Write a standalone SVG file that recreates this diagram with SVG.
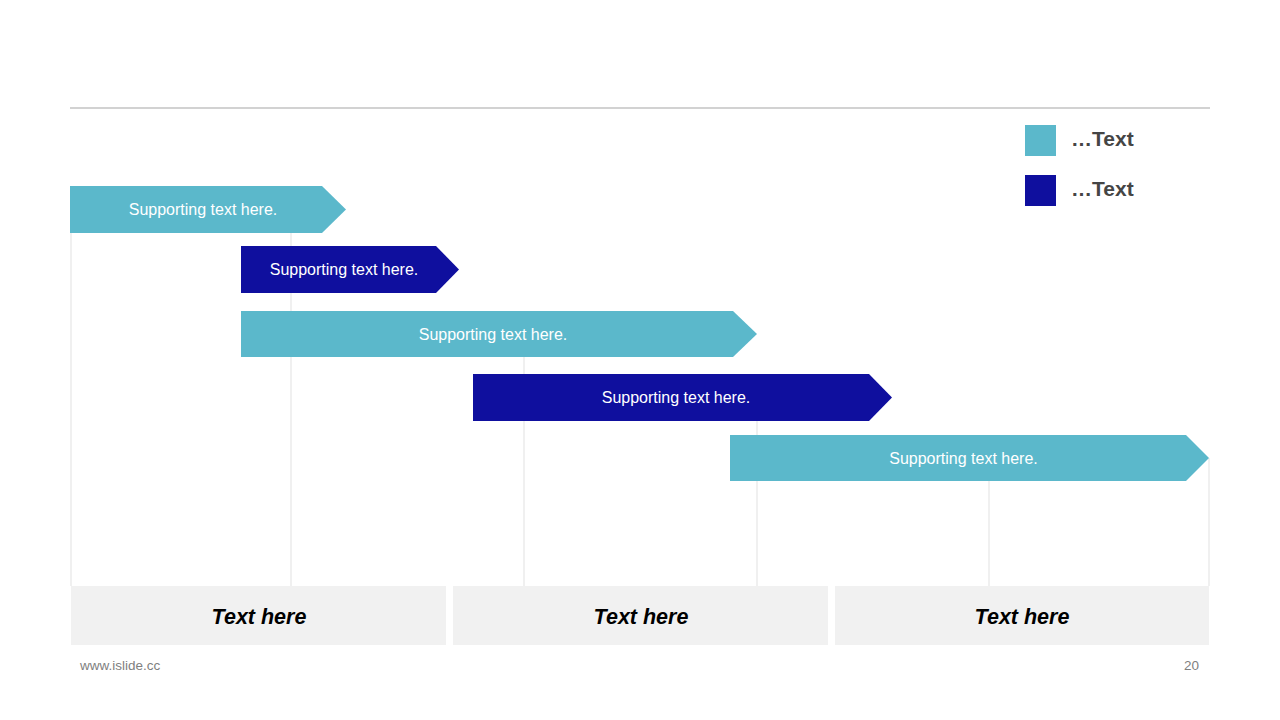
<svg xmlns="http://www.w3.org/2000/svg" width="1280" height="720" viewBox="0 0 1280 720">
<style>
.grid{stroke:#e6e6e6;stroke-width:1.2;fill:none}
.teal{fill:#5BB8CB}
.navy{fill:#0F0F9E}
.bt{font-family:"Liberation Sans",Arial,sans-serif;font-size:16px;fill:#ffffff;text-anchor:middle}
.box{fill:#f1f1f1}
.bx{font-family:"Liberation Sans",Arial,sans-serif;font-size:21.5px;font-weight:bold;font-style:italic;fill:#000000;text-anchor:middle}
.lg{font-family:"Liberation Sans",Arial,sans-serif;font-size:21px;font-weight:bold;fill:#454545}
.ft{font-family:"Liberation Sans",Arial,sans-serif;font-size:13.5px;fill:#808080}
</style>
<rect width="1280" height="720" fill="#ffffff"/>
<line x1="70" y1="108" x2="1210" y2="108" stroke="#a6a6a6" stroke-width="1.2"/>
<g id="grid">
<line class="grid" x1="71" y1="233" x2="71" y2="586"/>
<line class="grid" x1="291" y1="233" x2="291" y2="586"/>
<line class="grid" x1="524" y1="357" x2="524" y2="586"/>
<line class="grid" x1="757" y1="421" x2="757" y2="586"/>
<line class="grid" x1="989" y1="481" x2="989" y2="586"/>
<line class="grid" x1="1209" y1="458" x2="1209" y2="586"/>
</g>
<g id="bar1"><polygon class="teal" points="70,186 322,186 346,209.5 322,233 70,233"/><text class="bt" x="203" y="215">Supporting text here.</text></g>
<g id="bar2"><polygon class="navy" points="241,246 436,246 459,269.5 436,293 241,293"/><text class="bt" x="344" y="275">Supporting text here.</text></g>
<g id="bar3"><polygon class="teal" points="241,311 733,311 757,334 733,357 241,357"/><text class="bt" x="493" y="339.5">Supporting text here.</text></g>
<g id="bar4"><polygon class="navy" points="473,374 869,374 892,397.5 869,421 473,421"/><text class="bt" x="676" y="403">Supporting text here.</text></g>
<g id="bar5"><polygon class="teal" points="730,435 1186,435 1209,458 1186,481 730,481"/><text class="bt" x="963.5" y="463.5">Supporting text here.</text></g>
<g id="box1"><rect class="box" x="71" y="586" width="375" height="59"/><text class="bx" x="259" y="624">Text here</text></g>
<g id="box2"><rect class="box" x="453" y="586" width="375" height="59"/><text class="bx" x="641" y="624">Text here</text></g>
<g id="box3"><rect class="box" x="835" y="586" width="374" height="59"/><text class="bx" x="1022" y="624">Text here</text></g>
<g id="legend1"><rect class="teal" x="1025" y="125" width="31" height="31"/><text class="lg" x="1071" y="146">…Text</text></g>
<g id="legend2"><rect class="navy" x="1025" y="175" width="31" height="31"/><text class="lg" x="1071" y="196">…Text</text></g>
<text class="ft" x="80" y="670">www.islide.cc</text>
<text class="ft" x="1199" y="670" text-anchor="end">20</text>
</svg>
